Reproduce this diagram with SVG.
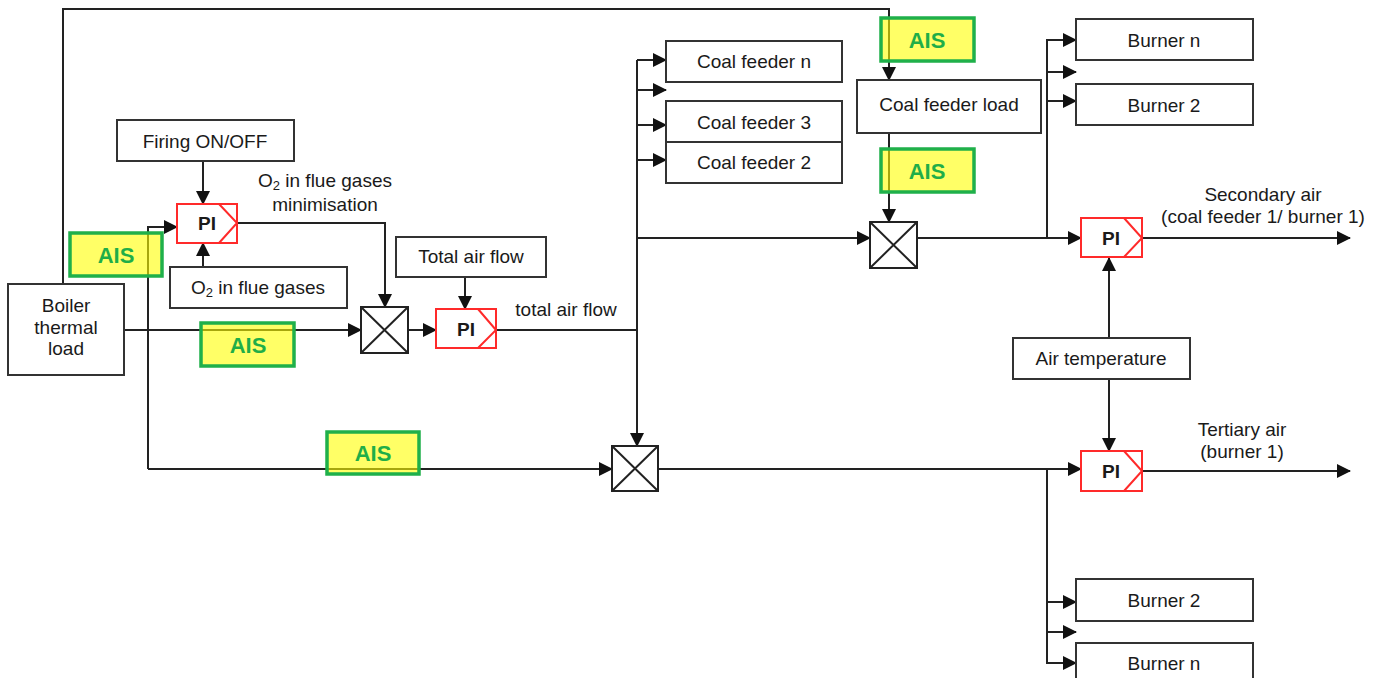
<svg xmlns="http://www.w3.org/2000/svg" width="1381" height="678" viewBox="0 0 1381 678">
<style>
text{font-family:"Liberation Sans",Arial,sans-serif;font-size:19px;fill:#1a1a1a;text-anchor:middle}
.box{fill:#fff;stroke:#333;stroke-width:2}
.pi{fill:#fff;stroke:#ff2a2a;stroke-width:2}
.chev{fill:none;stroke:#ff2a2a;stroke-width:2}
.pit{font-weight:bold}
.x{fill:#fff;stroke:#222;stroke-width:2}
.ais{fill:#ffff00;fill-opacity:0.6;stroke:#1fb04a;stroke-width:3.5}
.aist{font-weight:bold;fill:#1fae48;font-size:22px}
.c{fill:none;stroke:#222;stroke-width:2}
.a{marker-end:url(#ah)}
</style>
<defs>
<marker id="ah" markerUnits="userSpaceOnUse" markerWidth="14" markerHeight="14" viewBox="0 0 14 14" refX="13" refY="7" orient="auto">
<path d="M0,0 L14,7 L0,14 Z" fill="#111"/>
</marker>
</defs>
<rect width="1381" height="678" fill="#fff"/>
<g id="connectors">
<path class="c a" d="M63,284 V9 H889 V80"/>
<path class="c a" d="M203,161 V204"/>
<path class="c a" d="M203,267 V243"/>
<path class="c a" d="M148,469 V227 H177"/>
<path class="c a" d="M148,469 H612"/>
<path class="c a" d="M124,330 H361"/>
<path class="c a" d="M237,223 H385 V307"/>
<path class="c a" d="M408,330 H436"/>
<path class="c a" d="M465,277 V309"/>
<path class="c" d="M496,330 H637"/>
<path class="c a" d="M637,60 V446"/>
<path class="c a" d="M637,60 H666"/>
<path class="c a" d="M637,90 H666"/>
<path class="c a" d="M637,125 H666"/>
<path class="c a" d="M637,160 H666"/>
<path class="c a" d="M637,238 H870"/>
<path class="c a" d="M889,133 V222"/>
<path class="c a" d="M917,238 H1081"/>
<path class="c a" d="M1047,238 V40 H1076"/>
<path class="c a" d="M1047,72 H1076"/>
<path class="c a" d="M1047,101 H1076"/>
<path class="c a" d="M1142,238 H1350"/>
<path class="c a" d="M1109,338 V258"/>
<path class="c a" d="M1109,379 V451"/>
<path class="c a" d="M658,469 H1081"/>
<path class="c a" d="M1142,471 H1350"/>
<path class="c a" d="M1047,469 V663 H1076"/>
<path class="c a" d="M1047,602 H1076"/>
<path class="c a" d="M1047,632 H1076"/>
</g>
<g id="boiler"><rect class="box" x="8" y="284" width="116" height="91"/><text x="66" y="312">Boiler</text><text x="66" y="334">thermal</text><text x="66" y="355">load</text></g>
<g id="firing"><rect class="box" x="117" y="120" width="177" height="41"/><text x="205" y="148">Firing ON/OFF</text></g>
<g id="o2box"><rect class="box" x="170" y="267" width="177" height="41"/><text x="258" y="294">O<tspan font-size="13" dy="3">2</tspan><tspan dy="-3"> in flue gases</tspan></text></g>
<g id="o2label"><text x="325" y="187">O<tspan font-size="13" dy="3">2</tspan><tspan dy="-3"> in flue gases</tspan></text><text x="325" y="211">minimisation</text></g>
<g id="pi1"><rect class="pi" x="177" y="204" width="60" height="39"/><path class="chev" d="M219,204 L237,223 L219,243"/><text class="pit" x="207" y="230">PI</text></g>
<g id="cross1"><rect class="x" x="361" y="307" width="47" height="46"/><path class="c" d="M361,307 L408,353 M408,307 L361,353"/></g>
<g id="totalairbox"><rect class="box" x="396" y="237" width="150" height="40"/><text x="471" y="263">Total air flow</text></g>
<g id="pi2"><rect class="pi" x="436" y="309" width="60" height="39"/><path class="chev" d="M478,309 L496,330 L478,348"/><text class="pit" x="466" y="336">PI</text></g>
<g id="totalairlabel"><text x="566" y="316">total air flow</text></g>
<g id="cf_n"><rect class="box" x="666" y="41" width="176" height="41"/><text x="754" y="68">Coal feeder n</text></g>
<g id="cf_3"><rect class="box" x="666" y="101" width="176" height="41"/><text x="754" y="129">Coal feeder 3</text></g>
<g id="cf_2"><rect class="box" x="666" y="142" width="176" height="41"/><text x="754" y="169">Coal feeder 2</text></g>
<g id="cfload"><rect class="box" x="857" y="80" width="184" height="53"/><text x="949" y="111">Coal feeder load</text></g>
<g id="cross3"><rect class="x" x="870" y="222" width="47" height="46"/><path class="c" d="M870,222 L917,268 M917,222 L870,268"/></g>
<g id="burner_n_top"><rect class="box" x="1076" y="19" width="177" height="41"/><text x="1164" y="47">Burner n</text></g>
<g id="burner_2_top"><rect class="box" x="1076" y="84" width="177" height="41"/><text x="1164" y="112">Burner 2</text></g>
<g id="pi3"><rect class="pi" x="1081" y="218" width="61" height="39"/><path class="chev" d="M1124,218 L1142,238 L1124,257"/><text class="pit" x="1111" y="245">PI</text></g>
<g id="secondary"><text x="1263" y="201">Secondary air</text><text x="1263" y="223">(coal feeder 1/ burner 1)</text></g>
<g id="airtemp"><rect class="box" x="1013" y="338" width="177" height="41"/><text x="1101" y="365">Air temperature</text></g>
<g id="cross2"><rect class="x" x="612" y="446" width="46" height="45"/><path class="c" d="M612,446 L658,491 M658,446 L612,491"/></g>
<g id="pi4"><rect class="pi" x="1081" y="451" width="61" height="40"/><path class="chev" d="M1124,451 L1142,471 L1124,491"/><text class="pit" x="1111" y="478">PI</text></g>
<g id="tertiary"><text x="1242" y="436">Tertiary air</text><text x="1242" y="458">(burner 1)</text></g>
<g id="burner_2_bot"><rect class="box" x="1076" y="579" width="177" height="42"/><text x="1164" y="607">Burner 2</text></g>
<g id="burner_n_bot"><rect class="box" x="1076" y="643" width="177" height="42"/><text x="1164" y="670">Burner n</text></g>
<g id="ais1"><rect class="ais" x="70" y="233" width="92" height="43"/><text class="aist" x="116" y="263">AIS</text></g>
<g id="ais2"><rect class="ais" x="201" y="323" width="93" height="43"/><text class="aist" x="248" y="353">AIS</text></g>
<g id="ais3"><rect class="ais" x="881" y="18" width="93" height="43"/><text class="aist" x="927" y="48">AIS</text></g>
<g id="ais4"><rect class="ais" x="881" y="149" width="93" height="43"/><text class="aist" x="927" y="179">AIS</text></g>
<g id="ais5"><rect class="ais" x="327" y="432" width="92" height="42"/><text class="aist" x="373" y="461">AIS</text></g>
</svg>
